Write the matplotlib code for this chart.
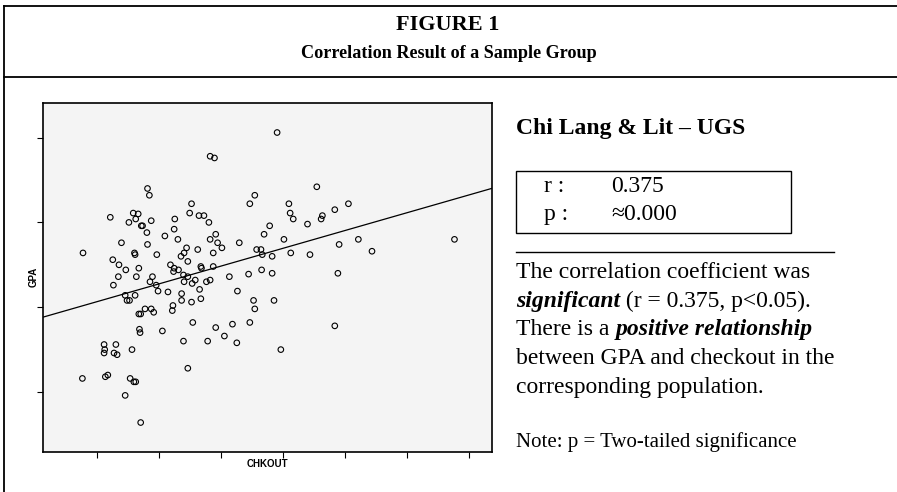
import matplotlib
matplotlib.use('Agg')
import matplotlib.pyplot as plt
from matplotlib.lines import Line2D
from matplotlib.patches import Rectangle
import numpy as np

# checkouts and GPA
chkout = [28.3, 29.0, 18.2, 18.5, 35.5, 34.7, 25.3, 25.0, 12.2, 15.9,
          16.7, 15.2, 16.3, 17.2, 17.4, 18.8, 22.6, 26.5, 27.3, 28.1,
          37.9, 18.1, 22.5, 21.0, 23.1, 29.2, 28.3, 29.5, 30.2, 37.0,
          33.0, 14.0, 18.2, 7.8, 16.1, 16.2, 19.7, 24.5, 24.1, 23.6,
          24.7, 26.3, 28.8, 35.8, 36.5, 36.7, 12.6, 13.6, 14.7, 16.8,
          21.9, 22.5, 23.2, 22.4, 26.8, 26.9, 28.8, 36.6, 34.5, 13.5,
          12.7, 16.4, 19.0, 18.6, 19.6, 19.9, 24.0, 24.7, 24.1, 25.9,
          25.4, 27.7, 28.3, 26.6, 31.4, 32.7, 21.5, 23.7, 23.7, 26.8,
          25.3, 14.6, 16.2, 14.9, 15.3, 22.3, 22.2, 17.8, 18.8, 19.2,
          16.8, 17.1, 35.3, 35.5, 25.5, 34.7, 31.9, 29.2, 16.9, 17.0,
          20.6, 30.6, 24.0, 27.9, 32.6, 11.2, 11.3, 11.2, 13.1, 12.8,
          13.3, 15.7, 24.7, 7.7, 11.4, 11.8, 15.4, 16.0, 16.3, 14.6,
          17.1, 39.1, 45.5, 41.0, 41.2, 41.7, 50.6, 48.4, 46.4, 46.2,
          44.0, 40.2, 52.2, 67.7, 49.1, 38.3, 41.3, 44.4, 54.4, 38.3,
          48.9, 38.6, 48.4, 39.7]

gpa = [3.78, 3.76, 3.40, 3.32, 3.32, 3.22, 3.22, 3.11, 3.06, 3.11,
       3.10, 3.00, 3.04, 2.96, 2.96, 3.02, 3.04, 3.08, 3.08, 3.00,
       2.96, 2.88, 2.92, 2.84, 2.80, 2.86, 2.80, 2.76, 2.70, 2.86,
       2.76, 2.76, 2.74, 2.64, 2.64, 2.62, 2.62, 2.70, 2.64, 2.60,
       2.54, 2.68, 2.64, 2.68, 2.68, 2.62, 2.56, 2.50, 2.44, 2.46,
       2.50, 2.46, 2.44, 2.42, 2.48, 2.46, 2.48, 2.44, 2.39, 2.36,
       2.26, 2.36, 2.36, 2.30, 2.26, 2.19, 2.38, 2.36, 2.30, 2.32,
       2.28, 2.30, 2.32, 2.21, 2.36, 2.19, 2.18, 2.16, 2.08, 2.10,
       2.06, 2.14, 2.14, 2.08, 2.08, 2.02, 1.96, 1.98, 1.98, 1.94,
       1.92, 1.92, 2.08, 1.98, 1.82, 1.82, 1.80, 1.76, 1.74, 1.70,
       1.72, 1.66, 1.60, 1.60, 1.58, 1.56, 1.50, 1.46, 1.56, 1.46,
       1.44, 1.50, 1.28, 1.16, 1.18, 1.20, 1.16, 1.12, 1.12, 0.96,
       0.64, 4.06, 3.42, 3.22, 3.11, 3.04, 3.22, 3.15, 3.08, 3.04,
       2.98, 2.80, 2.80, 2.80, 2.74, 2.60, 2.64, 2.62, 2.66, 2.40,
       2.40, 2.08, 1.78, 1.50]

x_ticks = [10, 20, 30, 40, 50, 60, 70]
y_ticks = [1, 2, 3, 4]

r_value = "0.375"
p_value = "\u22480.000"

W, H = 897, 492
SERIF = ['Liberation Serif', 'DejaVu Serif']

fig = plt.figure(figsize=(W / 100, H / 100), dpi=100)


def fx(px):
    return px / W


def fy(py):
    return 1 - py / H


# frame lines of the figure box
for xs, ys in [([4, W], [6, 6]), ([4, W], [77, 77]), ([4, 4], [6, H])]:
    fig.add_artist(Line2D([fx(v) for v in xs], [fy(v) for v in ys],
                          color='black', lw=1.3, transform=fig.transFigure))

fig.text(fx(448), fy(30), "FIGURE 1", family=SERIF, weight='bold',
         fontsize=16, ha='center', va='baseline')
fig.text(fx(449), fy(58), "Correlation Result of a Sample Group", family=SERIF,
         weight='bold', fontsize=13.1, ha='center', va='baseline')

# scatter
ax = fig.add_axes([fx(42.7), fy(451.7), fx(492.3) - fx(42.7), fy(103) - fy(451.7)])
ax.set_facecolor('#f4f4f4')
ax.scatter(chkout, gpa, s=16, facecolors='none', edgecolors='black', linewidths=0.8, zorder=3)

ax.set_xlim(1.3, 73.8)
ax.set_ylim(0.296, 4.408)
coef = np.polyfit(chkout, gpa, 1)
xl = np.array(ax.get_xlim())
ax.plot(xl, np.polyval(coef, xl), color='black', lw=0.9, zorder=2)

ax.set_xticks(x_ticks)
ax.set_yticks(y_ticks)
ax.tick_params(direction='out', length=4, width=0.8, labelbottom=False, labelleft=False)
for sp in ax.spines.values():
    sp.set_linewidth(1.2)
ax.set_xlabel("CHKOUT", family='Liberation Sans', weight='bold', fontsize=7, labelpad=1)
ax.set_ylabel("GPA", family='Liberation Sans', weight='bold', fontsize=7, labelpad=-1)

# right panel
fig.text(fx(516), fy(134), "Chi Lang & Lit \u2013 UGS", family=SERIF, weight='bold',
         fontsize=17, va='baseline')
fig.add_artist(Rectangle((fx(516), fy(232.5)), fx(791) - fx(516), fy(171) - fy(232.5),
                         fill=False, lw=1.0, edgecolor='black', transform=fig.transFigure))
fig.text(fx(544), fy(192), "r :", family=SERIF, fontsize=17, va='baseline')
fig.text(fx(611), fy(192), r_value, family=SERIF, fontsize=17, va='baseline')
fig.text(fx(544), fy(220), "p :", family=SERIF, fontsize=17, va='baseline')
fig.text(fx(611), fy(220), p_value, family=SERIF, fontsize=17, va='baseline')
fig.add_artist(Line2D([fx(516), fx(834)], [fy(252), fy(252)], color='black', lw=1.0,
                      transform=fig.transFigure))

lines = [
    [("The correlation coefficient was", 'normal', 'normal')],
    [("significant", 'bold', 'italic'), (" (r = 0.375, p<0.05).", 'normal', 'normal')],
    [("There is a ", 'normal', 'normal'), ("positive relationship", 'bold', 'italic')],
    [("between GPA and checkout in the", 'normal', 'normal')],
    [("corresponding population.", 'normal', 'normal')],
]
renderer = fig.canvas.get_renderer()
base = 278
for i, segs in enumerate(lines):
    x = 516
    for txt, wt, st in segs:
        t = fig.text(fx(x), fy(base + i * 28.7), txt, family=SERIF, weight=wt, style=st,
                     fontsize=17, va='baseline')
        bb = t.get_window_extent(renderer)
        x = bb.x1

fig.text(fx(516), fy(447), "Note: p = Two-tailed significance", family=SERIF,
         fontsize=15, va='baseline')

fig.savefig('out.png', dpi=100)
